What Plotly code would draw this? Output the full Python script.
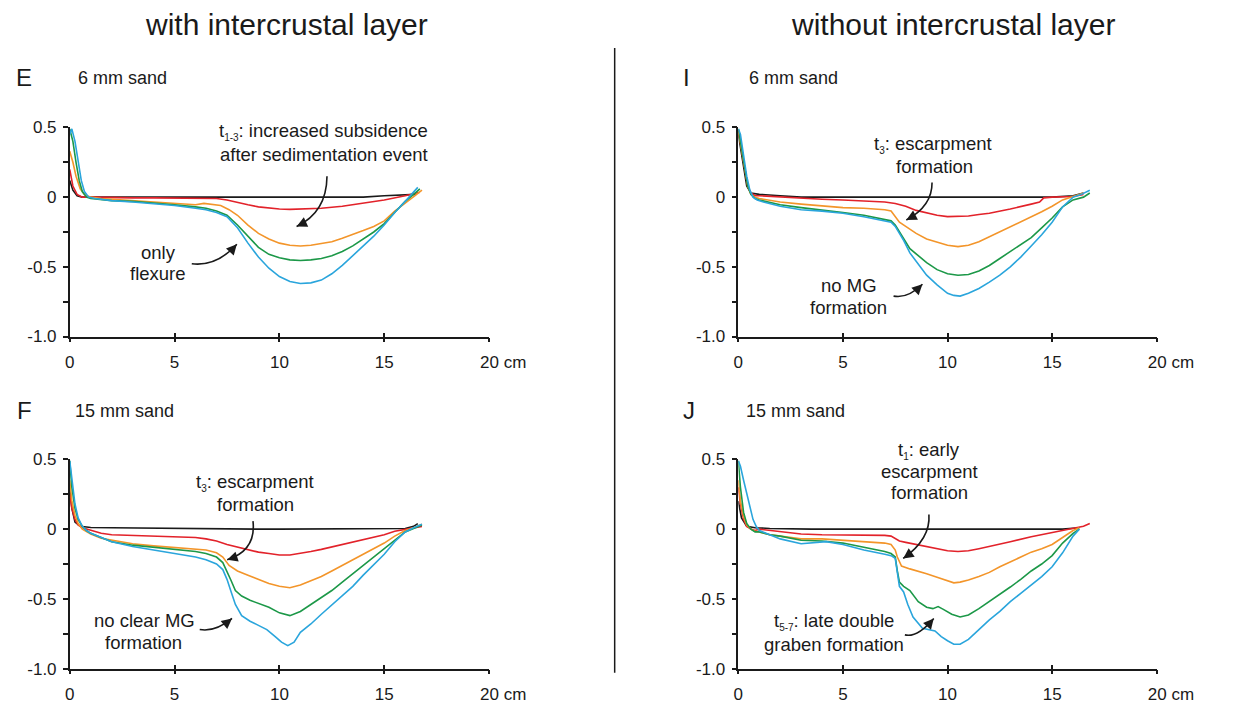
import plotly.graph_objects as go

W, H = 1243, 713

# ---------------- data (distance in cm, topography change) ----------------
# Panel E: with intercrustal layer, 6 mm sand
E_BLACK_X = [0, 0.15, 0.35, 0.6, 1, 2, 3, 4, 5, 6, 7, 8, 9, 10, 11, 12, 13, 14, 15, 15.8, 16.5]
E_BLACK_Y = [0.12, 0.05, 0.01, 0.0, 0.0, 0.0, 0.0, 0.0, 0.0, 0.0, 0.0, 0.0, 0.0, 0.0, 0.005, 0.0, 0.005, 0.0, 0.01, 0.015, 0.02]
E_RED_X = [0, 0.15, 0.35, 0.6, 1, 2, 3, 4, 5, 6, 7, 7.5, 8, 8.5, 9, 9.5, 10, 10.5, 11, 11.5, 12, 13, 14, 15, 16, 16.7]
E_RED_Y = [0.2, 0.08, 0.02, 0.0, 0.0, -0.005, -0.005, -0.005, -0.005, -0.005, -0.01, -0.02, -0.04, -0.055, -0.07, -0.08, -0.085, -0.088, -0.087, -0.085, -0.08, -0.065, -0.045, -0.02, 0.01, 0.035]
E_ORANGE_X = [0, 0.15, 0.3, 0.5, 0.7, 1, 1.5, 2, 3, 4, 5, 5.5, 6, 6.4, 6.8, 7.2, 7.6, 8, 8.5, 9, 9.5, 10, 10.5, 11, 11.5, 12, 12.5, 13, 13.5, 14, 14.5, 15, 15.5, 16, 16.5, 16.8]
E_ORANGE_Y = [0.33, 0.25, 0.15, 0.06, 0.02, 0.0, -0.01, -0.015, -0.02, -0.03, -0.045, -0.05, -0.055, -0.045, -0.05, -0.06, -0.09, -0.13, -0.2, -0.26, -0.3, -0.33, -0.345, -0.35, -0.345, -0.335, -0.32, -0.295, -0.27, -0.24, -0.21, -0.17, -0.1, -0.045, 0.015, 0.05]
E_GREEN_X = [0, 0.15, 0.3, 0.45, 0.6, 0.8, 1.0, 1.5, 2, 3, 4, 5, 6, 6.5, 7, 7.5, 8, 8.5, 9, 9.5, 10, 10.5, 11, 11.5, 12, 12.5, 13, 13.5, 14, 14.5, 15, 15.5, 16, 16.4, 16.7]
E_GREEN_Y = [0.49, 0.4, 0.25, 0.12, 0.04, 0.0, -0.01, -0.02, -0.025, -0.03, -0.04, -0.055, -0.07, -0.08, -0.1, -0.13, -0.2, -0.28, -0.36, -0.41, -0.435, -0.45, -0.455, -0.45, -0.44, -0.42, -0.39, -0.35, -0.3, -0.25, -0.19, -0.11, -0.03, 0.02, 0.06]
E_BLUE_X = [0, 0.1, 0.25, 0.4, 0.55, 0.7, 0.9, 1.2, 2, 3, 4, 5, 6, 6.5, 7, 7.5, 8, 8.5, 9, 9.5, 10, 10.5, 11, 11.5, 12, 12.5, 13, 13.5, 14, 14.5, 15, 15.5, 16, 16.3, 16.6]
E_BLUE_Y = [0.45, 0.49, 0.4, 0.25, 0.12, 0.04, 0.0, -0.01, -0.025, -0.035, -0.045, -0.06, -0.08, -0.09, -0.11, -0.14, -0.22, -0.33, -0.43, -0.51, -0.57, -0.605, -0.62, -0.615, -0.595, -0.55, -0.49, -0.42, -0.35, -0.28, -0.2, -0.11, -0.03, 0.02, 0.07]

# Panel I: without intercrustal layer, 6 mm sand
I_BLACK_X = [0, 0.2, 0.4, 0.6, 1, 2, 3, 4, 5, 6, 7, 8, 9, 10, 11, 12, 13, 14, 15, 16, 16.5]
I_BLACK_Y = [0.45, 0.25, 0.08, 0.03, 0.02, 0.01, 0.0, 0.0, 0.0, 0.0, 0.0, 0.0, 0.0, 0.0, 0.0, 0.0, 0.0, 0.0, 0.0, 0.01, 0.03]
I_RED_X = [0, 0.15, 0.3, 0.45, 0.6, 0.8, 1, 2, 3, 4, 5, 6, 7, 7.5, 8, 8.5, 9, 9.5, 10, 10.5, 11, 11.5, 12, 13, 13.5, 14, 14.4, 14.6, 15, 15.5, 16, 16.5]
I_RED_Y = [0.48, 0.35, 0.2, 0.08, 0.03, 0.01, 0.01, 0.0, -0.01, -0.015, -0.02, -0.025, -0.035, -0.045, -0.065, -0.095, -0.115, -0.13, -0.14, -0.14, -0.135, -0.125, -0.115, -0.085, -0.07, -0.05, -0.035, -0.005, 0.0, 0.0, 0.005, 0.02]
I_ORANGE_X = [0, 0.15, 0.3, 0.45, 0.6, 0.8, 1, 1.5, 2, 3, 4, 5, 6, 7, 7.3, 7.5, 7.7, 8, 8.5, 9, 9.5, 10, 10.5, 11, 11.5, 12, 12.5, 13, 13.5, 14, 14.5, 15, 15.5, 16, 16.5]
I_ORANGE_Y = [0.48, 0.35, 0.2, 0.08, 0.02, 0.0, -0.01, -0.025, -0.035, -0.05, -0.065, -0.075, -0.08, -0.09, -0.1, -0.14, -0.18, -0.21, -0.26, -0.3, -0.325, -0.345, -0.355, -0.345, -0.32, -0.285, -0.25, -0.215, -0.18, -0.14, -0.105, -0.065, -0.02, 0.005, 0.03]
I_GREEN_X = [0, 0.15, 0.3, 0.45, 0.6, 0.8, 1, 1.5, 2, 3, 4, 5, 6, 7, 7.3, 7.5, 7.7, 7.9, 8.2, 8.6, 9, 9.5, 10, 10.5, 11, 11.5, 12, 12.5, 13, 13.5, 14, 14.5, 15, 15.5, 16, 16.5, 16.8]
I_GREEN_Y = [0.49, 0.35, 0.2, 0.08, 0.02, -0.01, -0.02, -0.04, -0.055, -0.075, -0.09, -0.11, -0.13, -0.16, -0.17, -0.2, -0.25, -0.3, -0.37, -0.42, -0.47, -0.52, -0.55, -0.56, -0.555, -0.53, -0.49, -0.44, -0.39, -0.34, -0.29, -0.22, -0.15, -0.07, -0.02, 0.0, 0.03]
I_BLUE_X = [0, 0.1, 0.25, 0.4, 0.55, 0.7, 0.9, 1.2, 2, 3, 4, 5, 6, 7, 7.3, 7.5, 7.7, 7.9, 8.2, 8.6, 9, 9.5, 10, 10.3, 10.6, 11, 11.5, 12, 12.5, 13, 13.5, 14, 14.5, 15, 15.5, 16, 16.4, 16.8]
I_BLUE_Y = [0.49, 0.45, 0.3, 0.15, 0.05, 0.0, -0.02, -0.035, -0.065, -0.09, -0.1, -0.115, -0.14, -0.17, -0.18, -0.21, -0.26, -0.31, -0.4, -0.48, -0.56, -0.63, -0.69, -0.705, -0.71, -0.69, -0.655, -0.61, -0.56, -0.5, -0.43, -0.35, -0.27, -0.18, -0.07, 0.0, 0.02, 0.05]

# Panel F: with intercrustal layer, 15 mm sand
F_BLACK_X = [0, 0.1, 0.25, 0.5, 0.8, 1, 2, 3, 4, 5, 6, 7, 8, 9, 10, 11, 12, 13, 14, 15, 16, 16.4, 16.6]
F_BLACK_Y = [0.3, 0.15, 0.05, 0.02, 0.015, 0.012, 0.01, 0.008, 0.005, 0.003, 0.002, 0.002, 0.0, 0.0, 0.0, 0.0, 0.0, 0.0, 0.0, 0.0, 0.005, 0.02, 0.04]
F_RED_X = [0, 0.1, 0.25, 0.4, 0.6, 0.8, 1, 1.5, 2, 3, 4, 5, 6, 6.5, 7, 7.5, 8, 8.5, 9, 9.5, 10, 10.5, 11, 11.5, 12, 13, 14, 15, 15.5, 16, 16.5, 16.8]
F_RED_Y = [0.25, 0.15, 0.07, 0.03, 0.01, 0.0, -0.01, -0.03, -0.04, -0.045, -0.05, -0.055, -0.06, -0.07, -0.085, -0.11, -0.13, -0.15, -0.165, -0.175, -0.185, -0.185, -0.175, -0.16, -0.145, -0.11, -0.075, -0.04, -0.015, 0.0, 0.01, 0.02]
F_ORANGE_X = [0, 0.1, 0.25, 0.4, 0.6, 0.8, 1, 1.5, 2, 3, 4, 5, 6, 6.5, 7, 7.3, 7.6, 8, 8.5, 9, 9.5, 10, 10.5, 11, 11.5, 12, 12.5, 13, 13.5, 14, 14.5, 15, 15.5, 16, 16.4, 16.8]
F_ORANGE_Y = [0.35, 0.2, 0.1, 0.04, 0.0, -0.02, -0.035, -0.065, -0.08, -0.105, -0.12, -0.13, -0.14, -0.15, -0.17, -0.2, -0.26, -0.3, -0.33, -0.36, -0.39, -0.41, -0.42, -0.4, -0.37, -0.34, -0.3, -0.26, -0.22, -0.18, -0.14, -0.1, -0.05, -0.01, 0.01, 0.035]
F_GREEN_X = [0, 0.1, 0.25, 0.4, 0.6, 0.8, 1, 1.5, 2, 3, 4, 5, 6, 6.5, 7, 7.3, 7.5, 7.7, 7.9, 8.2, 8.6, 9, 9.5, 10, 10.5, 11, 11.5, 12, 12.5, 13, 13.5, 14, 14.5, 15, 15.5, 16, 16.4, 16.8]
F_GREEN_Y = [0.49, 0.3, 0.15, 0.07, 0.02, -0.01, -0.03, -0.06, -0.09, -0.115, -0.13, -0.145, -0.16, -0.175, -0.2, -0.24, -0.3, -0.37, -0.44, -0.48, -0.51, -0.53, -0.56, -0.6, -0.62, -0.59, -0.54, -0.49, -0.44, -0.38, -0.32, -0.26, -0.2, -0.14, -0.08, -0.02, 0.005, 0.03]
F_BLUE_X = [0, 0.1, 0.25, 0.4, 0.6, 0.8, 1, 1.5, 2, 3, 4, 5, 6, 6.5, 7, 7.3, 7.5, 7.7, 7.9, 8.2, 8.6, 9, 9.4, 9.8, 10.1, 10.4, 10.7, 11, 11.5, 12, 12.5, 13, 13.5, 14, 14.5, 15, 15.5, 16, 16.4, 16.8]
F_BLUE_Y = [0.49, 0.35, 0.18, 0.08, 0.02, -0.01, -0.03, -0.06, -0.09, -0.125, -0.15, -0.17, -0.2, -0.22, -0.25, -0.29, -0.36, -0.45, -0.54, -0.62, -0.66, -0.69, -0.72, -0.77, -0.81, -0.835, -0.81, -0.74, -0.68, -0.61, -0.545, -0.48, -0.41, -0.33, -0.255, -0.18, -0.09, -0.02, 0.01, 0.035]

# Panel J: without intercrustal layer, 15 mm sand
J_BLACK_X = [0, 0.15, 0.4, 0.8, 1.5, 2.5, 3.5, 4.5, 5.5, 6.5, 7.5, 8.5, 9.5, 10.5, 11.5, 12.5, 13.5, 14.5, 15.5, 16.3]
J_BLACK_Y = [0.2, 0.08, 0.02, 0.01, 0.005, 0.0, 0.0, 0.0, 0.0, 0.0, 0.0, 0.0, 0.0, 0.0, 0.0, 0.0, 0.0, 0.0, 0.0, 0.01]
J_RED_X = [0, 0.1, 0.25, 0.4, 0.6, 0.8, 1, 1.5, 2, 3, 4, 5, 6, 7, 7.3, 7.5, 7.7, 8, 8.5, 9, 9.5, 10, 10.5, 11, 11.5, 12, 12.5, 13, 14, 15, 15.5, 16, 16.5, 16.8]
J_RED_Y = [0.3, 0.18, 0.07, 0.02, 0.0, -0.01, 0.0, -0.01, -0.02, -0.035, -0.04, -0.04, -0.045, -0.045, -0.05, -0.07, -0.085, -0.095, -0.11, -0.125, -0.14, -0.155, -0.16, -0.155, -0.14, -0.125, -0.105, -0.09, -0.055, -0.025, -0.01, 0.005, 0.02, 0.04]
J_ORANGE_X = [0, 0.1, 0.25, 0.4, 0.6, 0.8, 1, 1.5, 2, 3, 4, 5, 6, 7, 7.3, 7.5, 7.6, 7.8, 8.2, 8.6, 9, 9.5, 10, 10.3, 10.6, 11, 11.5, 12, 12.5, 13, 13.5, 14, 14.5, 15, 15.5, 16, 16.3]
J_ORANGE_Y = [0.35, 0.2, 0.09, 0.03, 0.0, -0.015, -0.02, -0.04, -0.05, -0.07, -0.07, -0.08, -0.09, -0.1, -0.11, -0.15, -0.2, -0.265, -0.285, -0.3, -0.32, -0.345, -0.37, -0.385, -0.38, -0.365, -0.34, -0.31, -0.27, -0.235, -0.2, -0.165, -0.14, -0.11, -0.06, -0.01, 0.01]
J_GREEN_X = [0, 0.1, 0.25, 0.4, 0.6, 0.8, 1, 1.5, 2, 3, 4, 5, 6, 7, 7.3, 7.5, 7.6, 7.7, 7.9, 8.2, 8.6, 9, 9.3, 9.55, 9.8, 10.2, 10.6, 11, 11.5, 12, 12.5, 13, 13.5, 14, 14.5, 15, 15.5, 16, 16.3]
J_GREEN_Y = [0.49, 0.3, 0.12, 0.04, 0.0, -0.02, -0.02, -0.04, -0.05, -0.08, -0.085, -0.1, -0.13, -0.16, -0.175, -0.2, -0.3, -0.38, -0.41, -0.44, -0.52, -0.56, -0.57, -0.555, -0.575, -0.61, -0.63, -0.615, -0.57, -0.52, -0.47, -0.415, -0.36, -0.3, -0.25, -0.19, -0.1, -0.03, 0.0]
J_BLUE_X = [0, 0.1, 0.25, 0.4, 0.55, 0.7, 0.85, 1, 1.5, 2, 3, 3.5, 4.2, 5, 6, 7, 7.3, 7.5, 7.6, 7.7, 7.9, 8.1, 8.35, 8.8, 9.4, 9.7, 10.0, 10.3, 10.6, 11, 11.5, 12, 12.5, 13, 13.5, 14, 14.5, 15, 15.5, 16, 16.3]
J_BLUE_Y = [0.49, 0.45, 0.35, 0.25, 0.15, 0.07, 0.02, -0.01, -0.04, -0.07, -0.105, -0.1, -0.09, -0.11, -0.15, -0.18, -0.19, -0.21, -0.32, -0.41, -0.45, -0.54, -0.63, -0.71, -0.73, -0.77, -0.8, -0.825, -0.825, -0.79, -0.72, -0.65, -0.59, -0.52, -0.46, -0.4, -0.34, -0.27, -0.17, -0.05, 0.0]

X_TICKS = [0, 5, 10, 15, 20]
X_TICK_TEXT = ["0", "5", "10", "15", "\u00a0" * 6 + "20 cm"]
Y_TICKS = [-1.0, -0.75, -0.5, -0.25, 0, 0.25, 0.5]
Y_TICK_TEXT = ["-1.0", "", "-0.5", "", "0", "", "0.5"]

COLORS = {"black": "#1a1a1a", "red": "#e2222a", "orange": "#f3952a",
          "green": "#1c9848", "blue": "#2aa5dc"}

FONT = "Liberation Sans, Arial, Helvetica, sans-serif"
TXT = "#1a1a1a"

panels = [
    ("x", "y", [(E_BLACK_X, E_BLACK_Y, "black"), (E_RED_X, E_RED_Y, "red"), (E_ORANGE_X, E_ORANGE_Y, "orange"), (E_GREEN_X, E_GREEN_Y, "green"), (E_BLUE_X, E_BLUE_Y, "blue")]),
    ("x2", "y2", [(I_BLACK_X, I_BLACK_Y, "black"), (I_RED_X, I_RED_Y, "red"), (I_ORANGE_X, I_ORANGE_Y, "orange"), (I_GREEN_X, I_GREEN_Y, "green"), (I_BLUE_X, I_BLUE_Y, "blue")]),
    ("x3", "y3", [(F_BLACK_X, F_BLACK_Y, "black"), (F_RED_X, F_RED_Y, "red"), (F_ORANGE_X, F_ORANGE_Y, "orange"), (F_GREEN_X, F_GREEN_Y, "green"), (F_BLUE_X, F_BLUE_Y, "blue")]),
    ("x4", "y4", [(J_BLACK_X, J_BLACK_Y, "black"), (J_RED_X, J_RED_Y, "red"), (J_ORANGE_X, J_ORANGE_Y, "orange"), (J_GREEN_X, J_GREEN_Y, "green"), (J_BLUE_X, J_BLUE_Y, "blue")]),
]

fig = go.Figure()
for xa, ya, curves in panels:
    for xs, ys, c in curves:
        fig.add_trace(go.Scatter(x=xs, y=ys, mode="lines", xaxis=xa, yaxis=ya,
                                 line=dict(color=COLORS[c], width=1.6),
                                 showlegend=False, hoverinfo="skip"))

LEFT_X = [67 / W, 501 / W]
RIGHT_X = [759 / W, 1192 / W]
TOP_Y = [1 - 336.5 / H, 1 - 121.7 / H]
BOT_Y = [1 - 677.7 / H, 1 - 462.7 / H]
PX_PER_UNIT = 215.0 / 1.5
TICK_FONT = dict(size=17, color=TXT, family=FONT)

def xax(dom, anchor):
    return dict(domain=dom, anchor=anchor, range=[0, 20], tickmode="array",
                tickvals=X_TICKS, ticktext=X_TICK_TEXT, showline=True,
                linecolor="#1a1a1a", linewidth=1.5, ticks="outside", ticklen=4,
                tickwidth=1.5, tickcolor="#1a1a1a", showgrid=False, zeroline=False,
                ticklabelstandoff=5, tickfont=TICK_FONT, fixedrange=True)

def xax_inner(dom, anchor, over):
    # inner half of the crossing tick marks on the distance axis
    return dict(domain=dom, anchor=anchor, overlaying=over, range=[0, 20],
                tickmode="array", tickvals=X_TICKS, showticklabels=False,
                showline=False, ticks="inside", ticklen=4, tickwidth=1.5,
                tickcolor="#1a1a1a", showgrid=False, zeroline=False, fixedrange=True)

def yax(dom, anchor):
    return dict(domain=dom, anchor=anchor, range=[-1.0, 0.5], tickmode="array",
                tickvals=Y_TICKS, ticktext=Y_TICK_TEXT, showline=True,
                linecolor="#1a1a1a", linewidth=1.5, ticks="outside", ticklen=5,
                tickwidth=1.5, tickcolor="#1a1a1a", showgrid=False, zeroline=False,
                ticklabelstandoff=3, tickfont=TICK_FONT, fixedrange=True)

fig.update_layout(
    width=W, height=H, margin=dict(l=0, r=0, t=0, b=0),
    paper_bgcolor="white", plot_bgcolor="white",
    font=dict(family=FONT, color=TXT),
    xaxis=xax(LEFT_X, "y"), yaxis=yax(TOP_Y, "x"),
    xaxis2=xax(RIGHT_X, "y2"), yaxis2=yax(TOP_Y, "x2"),
    xaxis3=xax(LEFT_X, "y3"), yaxis3=yax(BOT_Y, "x3"),
    xaxis4=xax(RIGHT_X, "y4"), yaxis4=yax(BOT_Y, "x4"),
    xaxis5=xax_inner(LEFT_X, "y", "x"),
    xaxis6=xax_inner(RIGHT_X, "y2", "x2"),
    xaxis7=xax_inner(LEFT_X, "y3", "x3"),
    xaxis8=xax_inner(RIGHT_X, "y4", "x4"),
)
# invisible traces so the overlay axes are drawn
for xa, ya in [("x5", "y"), ("x6", "y2"), ("x7", "y3"), ("x8", "y4")]:
    fig.add_trace(go.Scatter(x=[0], y=[0], xaxis=xa, yaxis=ya, mode="lines",
                             line=dict(width=0), showlegend=False, hoverinfo="skip"))

ann = []
shapes = []

def ptext(text, px, py, size, xanchor="center"):
    ann.append(dict(text=text, x=px / W, y=1 - py / H, xref="paper", yref="paper",
                    xanchor=xanchor, yanchor="middle", showarrow=False,
                    font=dict(size=size, color=TXT, family=FONT)))

# column titles, panel letters, sand thickness
ptext("with intercrustal layer", 291, 16, 30)
ptext("without intercrustal layer", 981, 16, 30)
ptext("E", 20, 70, 24)
ptext("I", 705, 70, 24)
ptext("F", 20, 413, 24)
ptext("J", 708, 413, 24)
ptext("6 mm sand", 73, 71, 18, "left")
ptext("6 mm sand", 768, 71, 18, "left")
ptext("15 mm sand", 70, 413, 18, "left")
ptext("15 mm sand", 765, 413, 18, "left")

shapes.append(dict(type="line", xref="paper", yref="paper", x0=631 / W, x1=631 / W,
                   y0=1 - 40 / H, y1=1 - 682 / H, line=dict(color="#1a1a1a", width=1.5)))

def sub(s):
    return "<sub><span style='font-size:10px'>" + s + "</span></sub>"

def note(xa, ya, lines):
    for text, x, y in lines:
        y = y + 0.015
        shift = 0.0
        if y > 0.5:  # keep the anchor inside the axis range, lift with a pixel shift
            shift = (y - 0.5) * PX_PER_UNIT
            y = 0.5
        ann.append(dict(text=text, x=x, y=y, yshift=shift, xref=xa, yref=ya,
                        xanchor="center", yanchor="middle", align="center",
                        showarrow=False, borderpad=0,
                        font=dict(size=18.5, color=TXT, family=FONT)))

def carrow(xa, ya, s, c, e):
    shapes.append(dict(type="path", xref=xa, yref=ya,
                       path=f"M {s[0]},{s[1]} Q {c[0]},{c[1]} {e[0]},{e[1]}",
                       line=dict(color=TXT, width=1.6)))
    tx = e[0] + 0.3 * (c[0] - e[0])
    ty = e[1] + 0.3 * (c[1] - e[1])
    ann.append(dict(text="", x=e[0], y=e[1], ax=tx, ay=ty, xref=xa, yref=ya,
                    axref=xa, ayref=ya, showarrow=True, arrowhead=2,
                    arrowsize=1.3, arrowwidth=1.6, arrowcolor=TXT, standoff=0))

# E
note("x", "y", [("t" + sub("1-3") + ": increased subsidence", 12.12, 0.455),
                ("after sedimentation event", 12.12, 0.291)])
carrow("x", "y", (12.27, 0.15), (12.25, -0.11), (10.82, -0.21))
note("x", "y", [("only", 4.21, -0.415), ("flexure", 4.21, -0.56)])
carrow("x", "y", (5.82, -0.478), (7.0, -0.5), (7.97, -0.338))
# I
note("x2", "y2", [("t" + sub("3") + ": escarpment", 9.31, 0.361), ("formation", 9.36, 0.207)])
carrow("x2", "y2", (9.26, 0.105), (9.27, -0.065), (8.03, -0.164))
note("x2", "y2", [("no MG", 5.27, -0.65), ("formation", 5.27, -0.805)])
carrow("x2", "y2", (7.42, -0.71), (8.09, -0.73), (8.8, -0.625))
# F
note("x3", "y3", [("t" + sub("3") + ": escarpment", 8.83, 0.32), ("formation", 8.85, 0.16)])
carrow("x3", "y3", (8.74, 0.058), (8.9, -0.153), (7.51, -0.22))
note("x3", "y3", [("no clear MG", 3.55, -0.672), ("formation", 3.5, -0.83)])
carrow("x3", "y3", (6.2, -0.72), (6.93, -0.74), (7.74, -0.64))
# J
note("x4", "y4", [("t" + sub("1") + ": early", 9.12, 0.548), ("escarpment", 9.12, 0.396),
                  ("formation", 9.12, 0.245)])
carrow("x4", "y4", (9.11, 0.105), (9.2, -0.07), (7.88, -0.21))
note("x4", "y4", [("t" + sub("5-7") + ": late double", 4.58, -0.676),
                  ("graben formation", 4.58, -0.839)])
carrow("x4", "y4", (7.96, -0.758), (8.55, -0.78), (9.34, -0.64))

fig.update_layout(annotations=ann, shapes=shapes)
fig.write_html("out.html")
